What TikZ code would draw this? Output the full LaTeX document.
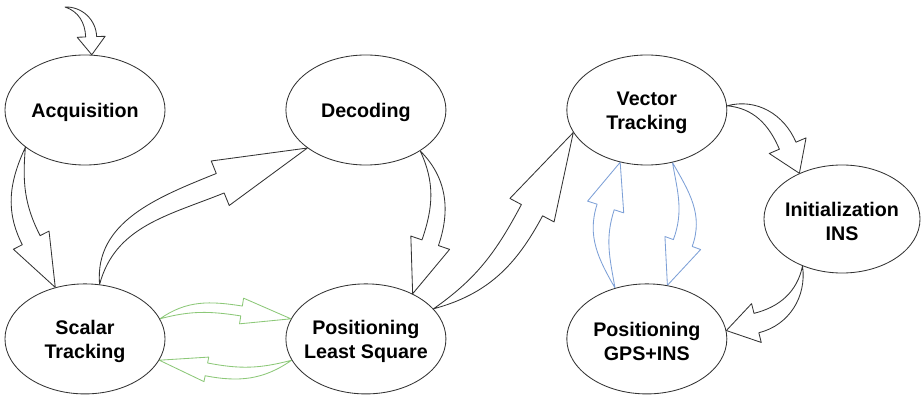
\documentclass[tikz,border=0pt]{standalone}
\usepackage{fontspec}
\setmainfont{Liberation Sans}
\usetikzlibrary{positioning, calc, shapes.geometric, backgrounds}
\definecolor{lgreen}{RGB}{140,200,120}
\definecolor{lblue}{RGB}{125,160,215}
\tikzset{
  st/.style={ellipse, draw=black!80, line width=0.6pt, fill=white,
             minimum width=4cm, minimum height=2.75cm, inner sep=0pt},
  lab/.style={font=\fontsize{14}{17.2}\selectfont\bfseries, align=center,
              yshift=-2pt},
  arrb/.style={draw=black!80, fill=white, line width=0.6pt, line join=round},
  arrblue/.style={arrb, draw=lblue},
  arrgreen/.style={arrb, draw=lgreen},
}
% hollow curved arrow: tail, tip, tail angle, tip angle, head length, head half width, shaft half width
\newcommand{\fatarrow}[8][arrb]{%
  \draw[#1] (#2) to[out=#4+10, in=#5+180] ($(#3)+(#5+180:#6)+(#5+90:#8)$)
    -- ($(#3)+(#5+180:#6)+(#5+90:#7)$) -- (#3)
    -- ($(#3)+(#5+180:#6)+(#5-90:#7)$)
    -- ($(#3)+(#5+180:#6)+(#5-90:#8)$)
    to[out=#5+180, in=#4-10] (#2) -- cycle;}

\begin{document}
\begin{tikzpicture}[x=0.025cm, y=0.025cm, node distance=2.95cm and 3cm]
  \useasboundingbox (0,0) rectangle (921,395);
  %% top row
  \node[st, label={[lab]center:Acquisition}] (acq) at (85,285) {};
  \node[st, right=of acq, label={[lab]center:Decoding}] (dec) {};
  \node[st, right=of dec, label={[lab]center:Vector\\Tracking}] (vec) {};
  %% bottom row
  \node[st, below=of acq, label={[lab]center:Scalar\\Tracking}] (sca) {};
  \node[st, right=of sca, label={[lab]center:Positioning\\Least Square}] (pls) {};
  \node[st, right=of pls, label={[lab]center:Positioning\\GPS+INS}] (gps) {};
  \node[st, minimum width=3.9cm, minimum height=2.7cm,
        label={[lab]center:Initialization\\INS}] (ini) at (842,176) {};
  \coordinate (src) at (65,388);
  %% arrows
  \begin{scope}[on background layer]
    \foreach \a/\b/\o/\t/\l/\w/\s in {src/acq.83/-8/-88/18/14/5.5,
        acq.212/sca.120/-105/-63/53/20/10, sca.75/dec.213/85/22/94/24/10.5,
        dec.-37/pls.44/-55/-109/54/20.5/8.7, pls.24/vec.197/25/62/88/25/12,
        vec.3/ini.133/5/-67/30/20/9, ini.230/gps.6/-92/-166/31/20/10}
      \fatarrow{\a}{\b}{\o}{\t}{\l}{\w}{\s};
    \fatarrow[arrblue]{gps.122}{vec.243}{110}{72}{47}{19}{9}
    \fatarrow[arrblue]{vec.-64}{gps.69}{-70}{-110}{45}{19}{10}
    \fatarrow[arrgreen]{sca.15}{pls.165}{25}{-9}{50}{13}{5}
    \fatarrow[arrgreen]{pls.196}{sca.-16}{205}{169}{48}{12.5}{6.5}
  \end{scope}
\end{tikzpicture}
\end{document}
